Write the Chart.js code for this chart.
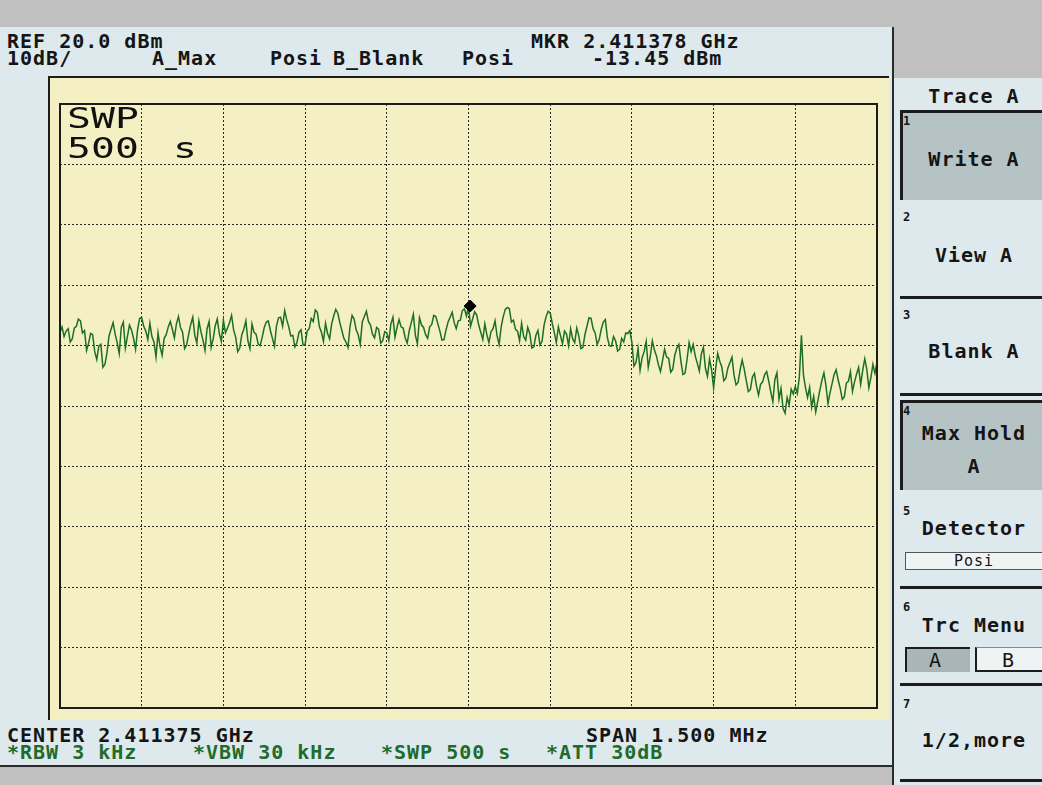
<!DOCTYPE html>
<html>
<head>
<meta charset="utf-8">
<script src="https://cdn.jsdelivr.net/npm/chart.js@4.4.1/dist/chart.umd.min.js"></script>
<style>
body { margin: 0; width: 1042px; height: 785px; overflow: hidden; position: relative;
       background: #dde9ec; font-family: "DejaVu Sans Mono", monospace; }
.box { position: absolute; box-sizing: border-box; }
.t { position: absolute; font-size: 20px; line-height: 20px; font-weight: bold; color: #151515;
     white-space: pre; letter-spacing: 1px; }
.g { color: #1f6b2c; }
.lbl { position: absolute; left: 900px; width: 148px; text-align: center; font-size: 20px; line-height: 20px;
       font-weight: bold; color: #151515; white-space: pre; letter-spacing: 1px; }
.num { position: absolute; left: 903px; font-size: 12px; line-height: 12px; font-weight: bold; color: #151515; }
.sep { position: absolute; left: 900px; width: 142px; height: 3px; background: #1c1c1c; }
.hi { position: absolute; left: 900px; width: 142px; background: #b6c3c5;
      border-top: 3px solid #1c1c1c; border-left: 3px solid #1c1c1c; box-sizing: border-box; }
#swp { position: absolute; left: 67px; top: 104px; font-size: 28px; line-height: 30px; color: #111;
       transform: scaleX(1.42); transform-origin: left top; white-space: pre; }
</style>
</head>
<body>
<div class="box" style="left:0;top:0;width:1042px;height:27px;background:#c0c0c0"></div>
<div class="box" style="left:894px;top:0;width:148px;height:78px;background:#c0c0c0"></div>
<div class="box" style="left:0;top:765px;width:893px;height:20px;background:#c0c0c0;border-top:2px solid #2a2a2a"></div>
<div class="box" style="left:892px;top:27px;width:2px;height:758px;background:#2a2a2a"></div>

<div class="box" style="left:48px;top:76px;width:841px;height:644px;border-left:2px solid #1c1c1c;border-top:2px solid #1c1c1c;background:#f4f0c4"></div>
<div class="box" style="left:50px;top:78px;width:839px;height:640px">
  <canvas id="sa" width="839" height="640"></canvas>
</div>
<div id="swp">SWP
500<span style="margin-left:24px">s</span></div>

<div class="t" style="left:7px;top:31px">REF 20.0 dBm</div>
<div class="t" style="left:7px;top:48px">10dB/</div>
<div class="t" style="left:152px;top:48px">A_Max</div>
<div class="t" style="left:270px;top:48px">Posi</div>
<div class="t" style="left:333px;top:48px">B_Blank</div>
<div class="t" style="left:462px;top:48px">Posi</div>
<div class="t" style="left:531px;top:31px">MKR 2.411378 GHz</div>
<div class="t" style="left:592px;top:48px">-13.45 dBm</div>

<div class="t" style="left:7px;top:725px">CENTER 2.411375 GHz</div>
<div class="t" style="left:586px;top:725px">SPAN 1.500 MHz</div>
<div class="t g" style="left:7px;top:742px">*RBW 3 kHz</div>
<div class="t g" style="left:193px;top:742px">*VBW 30 kHz</div>
<div class="t g" style="left:381px;top:742px">*SWP 500 s</div>
<div class="t g" style="left:546px;top:742px">*ATT 30dB</div>

<div class="lbl" style="top:86px">Trace A</div>
<div class="hi" style="top:110px;height:90px"></div>
<div class="num" style="top:115px">1</div>
<div class="lbl" style="top:149px">Write A</div>
<div class="num" style="top:211px">2</div>
<div class="lbl" style="top:245px">View A</div>
<div class="sep" style="top:296px"></div>
<div class="num" style="top:309px">3</div>
<div class="lbl" style="top:341px">Blank A</div>
<div class="sep" style="top:393px"></div>
<div class="hi" style="top:400px;height:90px"></div>
<div class="num" style="top:405px">4</div>
<div class="lbl" style="top:423px">Max Hold</div>
<div class="lbl" style="top:456px">A</div>
<div class="num" style="top:505px">5</div>
<div class="lbl" style="top:518px">Detector</div>
<div class="box" style="left:905px;top:552px;width:137px;height:18px;background:#eef4f4;border:1px solid #555;border-right:none"></div>
<div class="lbl" style="top:553px;font-size:15px;line-height:16px;font-weight:normal">Posi</div>
<div class="sep" style="top:586px"></div>
<div class="num" style="top:601px">6</div>
<div class="lbl" style="top:615px">Trc Menu</div>
<div class="box" style="left:905px;top:647px;width:65px;height:25px;background:#a9b6b8;border-top:2px solid #1c1c1c;border-left:2px solid #1c1c1c"></div>
<div class="t" style="left:929px;top:650px;font-weight:normal">A</div>
<div class="box" style="left:975px;top:647px;width:67px;height:25px;background:#eef4f4;border-left:2px solid #1c1c1c;border-bottom:2px solid #1c1c1c;border-top:1px solid #888"></div>
<div class="t" style="left:1002px;top:650px;font-weight:normal">B</div>
<div class="sep" style="top:683px"></div>
<div class="num" style="top:698px">7</div>
<div class="lbl" style="top:730px">1/2,more</div>
<div class="sep" style="top:779px"></div>

<script>
// Réglages de l'analyseur
const refLevelDbm = 20;
const dbPerDiv = 10;
const divisions = 10;
const spanKHz = 1500;

// Marqueur
const markerOffsetKHz = 3;      // 2.411378 GHz - 2.411375 GHz
const markerLevelDbm = -13.45;

// Trace A (Max Hold), dBm, 40 points par division
const traceA = [
  -17.8,-16.9, -18.5,-17.6, -17.2,-19.4, -18.9,-17.1, -16.8,-15.6, -15.9,-17.9, -17.5,-20.8, -19.6,-18.0, -18.2,-21.0, -22.3,-20.1, -19.8,-23.6, -23.1,-21.2, -18.4,-17.3, -16.2,-18.1, -19.5,-21.3, -17.0,-16.1, -20.4,-18.5, -16.6,-17.4, -18.8,-20.6, -17.3,-15.5,
  -15.4,-16.8, -17.6,-19.0, -16.3,-18.5, -19.4,-21.9, -17.9,-20.2, -21.6,-18.8, -18.2,-16.9, -16.0,-17.3, -18.7,-16.4, -15.2,-17.0, -17.8,-20.5, -19.9,-18.1, -16.5,-15.3, -18.3,-19.6, -15.9,-17.7, -19.1,-20.8, -17.2,-16.0, -20.3,-18.9, -16.7,-15.6, -18.0,-19.3,
  -15.8,-17.9, -17.1,-16.2, -15.0,-17.4, -18.6,-21.0, -20.4,-18.2, -17.3,-15.9, -19.2,-20.5, -16.4,-17.8, -18.1,-19.7, -20.0,-18.6, -17.0,-16.1, -15.9,-17.5, -18.8,-20.1, -16.7,-15.4, -15.3,-16.8, -14.2,-15.7, -16.9,-18.4, -18.3,-20.2, -19.5,-17.8, -17.4,-19.9,
  -19.8,-17.6, -17.2,-15.5, -16.0,-14.1, -14.5,-16.9, -17.8,-19.3, -16.3,-18.0, -18.9,-16.4, -15.1,-14.0, -14.6,-16.2, -17.5,-18.8, -19.4,-20.3, -16.8,-15.0, -15.6,-17.4, -18.2,-19.8, -16.1,-15.2, -14.3,-16.0, -16.6,-18.1, -18.7,-17.0, -17.3,-19.6, -19.2,-17.7,
  -17.9,-19.2, -16.4,-15.3, -18.6,-17.0, -15.7,-16.9, -17.1,-18.7, -19.6,-17.5, -16.2,-14.8, -18.3,-19.7, -15.4,-16.6, -17.0,-18.2, -18.8,-16.9, -16.5,-15.0, -15.2,-16.4, -17.6,-19.1, -19.0,-17.4, -16.1,-15.3, -14.5,-16.2, -17.2,-15.9, -15.8,-14.2, -13.9,-15.1,
  -13.5,-16.8, -15.6,-14.4, -14.9,-16.6, -17.8,-19.0, -16.4,-18.2, -19.5,-17.7, -17.2,-15.9, -18.4,-19.8, -16.9,-15.2, -14.0,-13.7, -13.9,-16.1, -15.8,-17.3, -17.6,-19.2, -16.3,-18.5, -19.1,-17.0, -18.0,-20.4, -20.2,-18.3, -17.5,-19.9, -19.3,-16.6, -15.2,-14.3,
  -14.6,-16.3, -17.8,-19.5, -16.9,-18.3, -19.7,-17.6, -18.1,-20.0, -17.2,-18.9, -19.5,-17.1, -18.4,-20.5, -20.3,-18.2, -16.8,-15.4, -15.5,-17.2, -17.9,-19.8, -19.0,-17.3, -16.1,-15.7, -18.7,-20.0, -20.1,-18.5, -19.2,-20.9, -20.6,-18.8, -19.4,-17.9, -18.0,-17.5,
  -19.5,-23.4, -22.8,-20.5, -24.1,-22.0, -21.0,-19.3, -23.6,-21.8, -19.2,-20.7, -21.7,-23.2, -24.3,-22.5, -20.6,-21.9, -22.1,-24.4, -23.9,-21.6, -20.4,-19.8, -22.6,-24.8, -24.6,-22.3, -19.5,-21.0, -19.8,-21.7, -22.9,-24.2, -21.4,-20.3, -23.8,-25.1, -22.2,-24.0,
  -27.0,-23.8, -21.3,-22.6, -23.5,-25.8, -25.4,-23.7, -22.8,-21.9, -24.9,-26.5, -26.1,-24.0, -22.4,-23.9, -25.8,-27.6, -27.3,-25.2, -24.6,-26.7, -28.2,-26.4, -26.0,-24.8, -24.3,-25.9, -27.7,-29.3, -25.6,-24.5, -28.9,-27.1, -30.4,-31.2, -28.6,-29.8, -27.2,-28.0,
  -26.8,-27.9, -25.1,-18.3, -24.9,-27.0, -28.6,-26.9, -30.2,-28.4, -31.0,-29.2, -27.4,-25.8, -24.5,-26.6, -29.6,-27.8, -26.3,-24.8, -24.0,-25.7, -27.1,-28.9, -28.5,-26.2, -25.9,-24.3, -27.6,-26.0, -24.7,-23.6, -26.4,-24.1, -22.2,-23.9, -27.0,-25.3, -23.1,-24.6, -22.8
];

// Cadre plein autour de la grille
const frameBox = {
    id: 'frameBox',
    afterDraw(chart) {
        const a = chart.chartArea;
        const ctx = chart.ctx;
        ctx.save();
        ctx.strokeStyle = '#1c1c1c';
        ctx.lineWidth = 2;
        ctx.strokeRect(a.left, a.top, a.right - a.left, a.bottom - a.top);
        ctx.restore();
    }
};

document.addEventListener('DOMContentLoaded', function() {
    const step = spanKHz / (traceA.length - 1);
    const points = traceA.map((v, i) => ({ x: -spanKHz / 2 + i * step, y: v }));

    new Chart(document.getElementById('sa').getContext('2d'), {
        type: 'line',
        data: {
            datasets: [{
                label: 'MKR',
                data: [{ x: markerOffsetKHz, y: markerLevelDbm }],
                showLine: false,
                pointStyle: 'rectRot',
                pointRadius: 6,
                backgroundColor: '#000',
                borderColor: '#000',
                order: 0
            }, {
                label: 'Trace A',
                data: points,
                borderColor: '#1d6f21',
                borderWidth: 1.5,
                pointRadius: 0,
                tension: 0,
                order: 1
            }]
        },
        options: {
            responsive: false,
            animation: false,
            layout: { padding: { left: 10, top: 26, right: 12, bottom: 10 } },
            plugins: { legend: { display: false }, tooltip: { enabled: false } },
            scales: {
                x: {
                    type: 'linear',
                    min: -spanKHz / 2,
                    max: spanKHz / 2,
                    ticks: { display: false, stepSize: spanKHz / divisions },
                    grid: { color: '#2a2a2a', lineWidth: 1, drawTicks: false },
                    border: { display: false, dash: [2, 2] }
                },
                y: {
                    min: refLevelDbm - dbPerDiv * divisions,
                    max: refLevelDbm,
                    ticks: { display: false, stepSize: dbPerDiv },
                    grid: { color: '#2a2a2a', lineWidth: 1, drawTicks: false },
                    border: { display: false, dash: [2, 2] }
                }
            }
        },
        plugins: [frameBox]
    });
});
</script>
</body>
</html>
